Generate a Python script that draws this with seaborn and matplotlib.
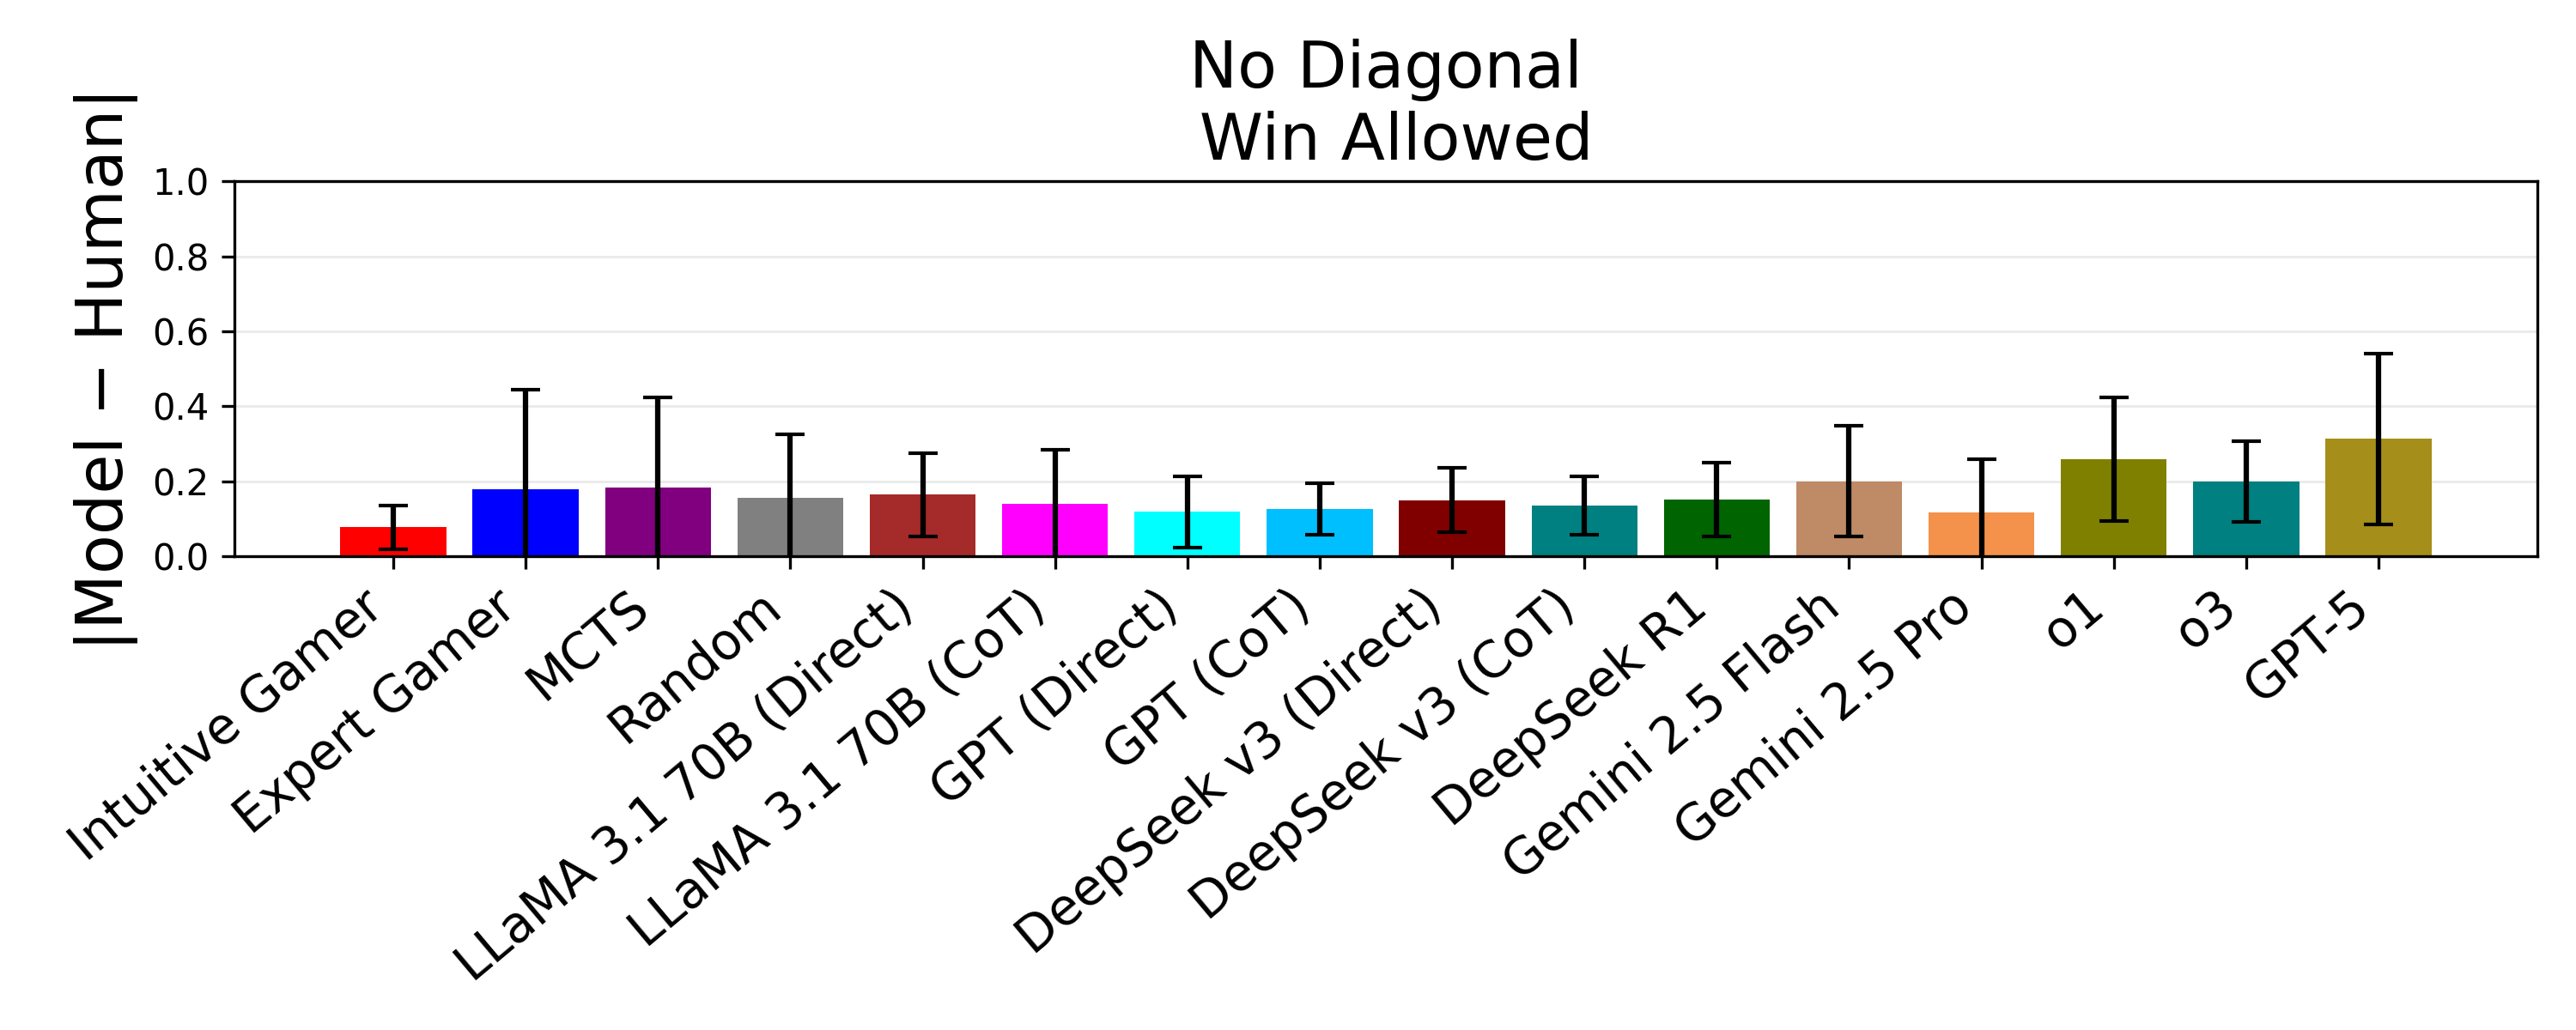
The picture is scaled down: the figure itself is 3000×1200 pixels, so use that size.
import matplotlib
matplotlib.use("Agg")
import matplotlib.pyplot as plt
import numpy as np
import pandas as pd
import seaborn as sns

# Data
models = [
    "Intuitive Gamer", "Expert Gamer", "MCTS", "Random",
    "LLaMA 3.1 70B (Direct)", "LLaMA 3.1 70B (CoT)",
    "GPT (Direct)", "GPT (CoT)",
    "DeepSeek v3 (Direct)", "DeepSeek v3 (CoT)", "DeepSeek R1",
    "Gemini 2.5 Flash", "Gemini 2.5 Pro", "o1", "o3", "GPT-5",
]
mean_diff = [0.078, 0.179, 0.184, 0.156, 0.165, 0.140, 0.120, 0.126,
             0.149, 0.136, 0.152, 0.200, 0.117, 0.259, 0.200, 0.314]
ci_low = [0.019, -0.086, -0.055, -0.014, 0.053, -0.004, 0.024, 0.058,
          0.065, 0.058, 0.053, 0.053, -0.025, 0.094, 0.092, 0.085]
ci_high = [0.136, 0.444, 0.423, 0.326, 0.275, 0.284, 0.213, 0.195,
           0.236, 0.213, 0.250, 0.349, 0.259, 0.423, 0.307, 0.540]
bar_colors = ["#ff0000", "#0000ff", "#800080", "#808080", "#a52a2a", "#ff00ff",
              "#00ffff", "#00bfff", "#800000", "#008080", "#006400", "#bf8a66",
              "#f4914a", "#808000", "#008080", "#a68e1a"]

df = pd.DataFrame({"model": models, "diff": mean_diff})

fig, ax = plt.subplots(figsize=(10, 4), dpi=300)

sns.barplot(data=df, x="model", y="diff", hue="model", palette=bar_colors,
            saturation=1, legend=False, width=0.8, ax=ax)

# Error bars
x = np.arange(len(models))
yerr = [np.array(mean_diff) - np.array(ci_low), np.array(ci_high) - np.array(mean_diff)]
ax.errorbar(x, mean_diff, yerr=yerr, fmt="none", ecolor="black",
            elinewidth=1.5, capsize=4)

ax.set_xlim(-1.2, len(models) + 0.2)
ax.set_ylim(0, 1.0)
ax.set_yticks([0.0, 0.2, 0.4, 0.6, 0.8, 1.0])
ax.yaxis.grid(True, color="#ebebeb", linewidth=0.7)
ax.set_axisbelow(True)

ax.set_xlabel("")
ax.set_ylabel("|Model \u2212 Human|", fontsize=18)
ax.set_title("No Diagonal\n Win Allowed", fontsize=18)
plt.xticks(rotation=40, ha="right", fontsize=14)
plt.yticks(fontsize=10)

plt.subplots_adjust(left=0.091, right=0.985, bottom=0.46, top=0.824)
plt.savefig("out.png")
